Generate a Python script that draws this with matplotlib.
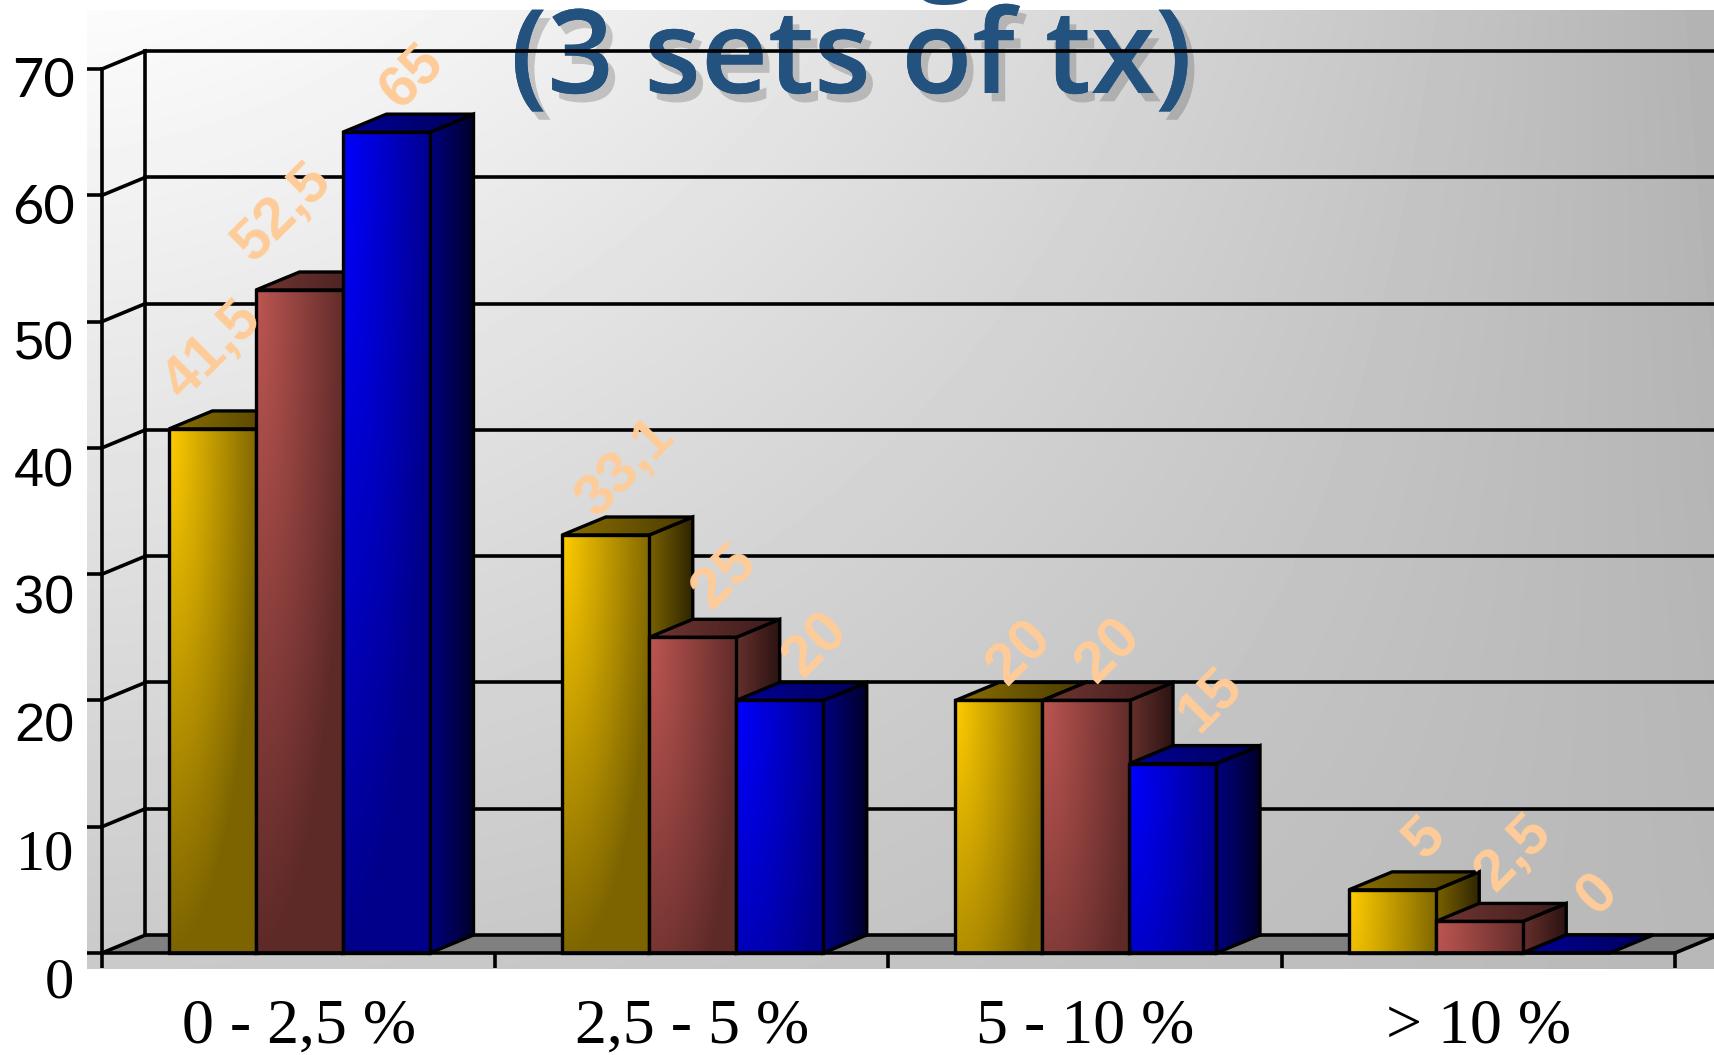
import numpy as np
import matplotlib
matplotlib.use("Agg")
import matplotlib.pyplot as plt
import matplotlib.patheffects as pe
from matplotlib.patches import Polygon
from matplotlib.transforms import ScaledTranslation

# ---------- data ----------
categories = ["0 - 2,5 %", "2,5 - 5 %", "5 - 10 %", "> 10 %"]
yellow_values = [41.5, 33.1, 20, 5]
red_values = [52.5, 25, 20, 2.5]
blue_values = [65, 20, 15, 0]
yellow_labels = ["41,5", "33,1", "20", "5"]
red_labels = ["52,5", "25", "20", "2,5"]
blue_labels = ["65", "20", "15", "0"]
y_ticks = [0, 10, 20, 30, 40, 50, 60, 70]

# ---------- layout (pixels of the 1715x1055 canvas) ----------
W, H = 1715, 1055
X0, X1, Y0, Y70 = 102, 1675, 953, 69
PX_X = (X1 - X0) / 4
PX_Y = (Y0 - Y70) / 70
DX = 43.5 / PX_X
DY = 18 / PX_Y
BAR_W = 87 / PX_X
BAR_GAP = 67 / PX_X

# label offsets (px right, px up) from the bar's top centre
yellow_off = [(0, 78), (20, 67), (21, 47), (33, 51)]
red_off = [(-17, 77), (32, 60), (23, 49), (35, 68)]
blue_off = [(26, 55), (36, 55), (37, 63), (32, 58)]

series = [
    (yellow_values, yellow_labels, yellow_off, "#ffcc00", "#7d6400", "#8a6e00", "#4a3b00", "#7a6200", "#2e2500"),
    (red_values, red_labels, red_off, "#bd5652", "#5e2a28", "#713532", "#3d1c1b", "#66302c", "#2a1312"),
    (blue_values, blue_labels, blue_off, "#0000ff", "#00008a", "#000096", "#00005a", "#000080", "#00002a"),
]


def rgb(c):
    return np.array(matplotlib.colors.to_rgb(c))


def grad_h(c1, c2, n=48):
    t = np.linspace(0, 1, n)[None, :, None]
    return rgb(c1)[None, None, :] * (1 - t) + rgb(c2)[None, None, :] * t


def grad_front(light, dark, ratio, n=80):
    u, v = np.meshgrid(np.linspace(0, 1, n), np.linspace(0, 1, n))
    f = np.clip(1 - np.sqrt((u * 0.95) ** 2 + (v * ratio) ** 2), 0, 1)[..., None]
    return rgb(dark) * (1 - f) + rgb(light) * f


plt.rcParams["font.family"] = ["Liberation Sans", "DejaVu Sans"]
fig = plt.figure(figsize=(W / 100, H / 100), dpi=100, facecolor="white")

# ---------- gradient backdrop ----------
bg = fig.add_axes([87 / W, 1 - 969 / H, (W - 87) / W, (969 - 10) / H], zorder=0)
uu, vv = np.meshgrid(np.linspace(0, 1, 300), np.linspace(0, 1, 200))
uu = uu ** 1.5
TL, TR, BL, BR = 0.985, 0.70, 0.79, 0.72
shade = (1 - uu) * (1 - vv) * TL + uu * (1 - vv) * TR + (1 - uu) * vv * BL + uu * vv * BR
bg.imshow(shade, cmap="gray", vmin=0, vmax=1, aspect="auto", interpolation="bilinear")
bg.set_axis_off()

# ---------- main axes ----------
ax = fig.add_axes([X0 / W, 1 - Y0 / H, (X1 - X0) / W, (Y0 - Y70) / H], zorder=1)
ax.patch.set_visible(False)
LW = 2.6

# title sits behind the grid
shadow = [pe.withSimplePatchShadow(offset=(5, -6), shadow_rgbFace="#404040", alpha=0.25), pe.Normal()]
ax.text(851 / W, 1 - 93 / H, "(3 sets of tx)", transform=fig.transFigure, ha="center", va="baseline",
        fontsize=84, fontfamily="Open Sans", fontweight="semibold", color="#24527f",
        path_effects=shadow, zorder=1, clip_on=False)
ax.text(948 / W, 1 + 23 / H, "g", transform=fig.transFigure, ha="center", va="baseline",
        fontsize=84, fontfamily="Open Sans", fontweight="semibold", color="#24527f",
        zorder=1, clip_on=False)

# floor, walls, grid
ax.add_patch(Polygon([(0, 0), (4, 0), (4 + DX, DY), (DX, DY)], closed=True, fc="#808080", ec="none",
                     zorder=1.5, clip_on=False))
for v in y_ticks:
    ax.plot([DX, 4 + DX], [v + DY, v + DY], color="black", lw=LW, zorder=2, clip_on=False)
    ax.plot([0, DX], [v, v + DY], color="black", lw=LW, zorder=2, clip_on=False)
ax.plot([DX, DX], [DY, 70 + DY], color="black", lw=LW, zorder=2, clip_on=False)
ax.plot([4, 4 + DX], [0, DY], color="black", lw=LW, zorder=2, clip_on=False)

# bars
z = 3.0


def face(img, pts, zo):
    pts = np.array(pts, dtype=float)
    x_min, x_max, y_min, y_max = pts[:, 0].min(), pts[:, 0].max(), pts[:, 1].min(), pts[:, 1].max()
    im = ax.imshow(img, extent=(x_min, x_max, y_min, y_max), origin="upper", aspect="auto",
                   interpolation="bilinear", zorder=zo)
    poly = Polygon(pts, closed=True, fc="none", ec="black", lw=2.4, joinstyle="miter", zorder=zo + 0.01,
                   clip_on=False)
    ax.add_patch(poly)
    im.set_clip_path(poly)


for g in range(len(categories)):
    for s, (vals, _, _, light, dark, top1, top2, side1, side2) in enumerate(series):
        v = vals[g]
        x = g + BAR_GAP + s * BAR_W
        xr = x + BAR_W
        if v > 0:
            ratio = min(1.0, (v * PX_Y) / 430)
            face(grad_front(light, dark, ratio), [(x, 0), (xr, 0), (xr, v), (x, v)], z + 0.2)
            face(grad_h(side1, side2), [(xr, 0), (xr + DX, DY), (xr + DX, v + DY), (xr, v)], z)
        face(grad_h(top1, top2), [(x, v), (xr, v), (xr + DX, v + DY), (x + DX, v + DY)], z + 0.1)
        z += 0.5

# data labels
for s, (vals, labs, offs, *_) in enumerate(series):
    for g, (v, lab, off) in enumerate(zip(vals, labs, offs)):
        xc = g + BAR_GAP + (s + 0.5) * BAR_W
        ax.annotate(lab, (xc, v), xytext=off, textcoords="offset pixels", rotation=45,
                    ha="center", va="center", fontsize=42, fontweight="bold", color="#ffcc99",
                    fontfamily="Liberation Sans", zorder=50, annotation_clip=False)

# axes, ticks, tick labels
ax.set_xlim(0, 4)
ax.set_ylim(0, 70)
for side in ("top", "right"):
    ax.spines[side].set_visible(False)
for side in ("left", "bottom"):
    ax.spines[side].set_linewidth(LW)
    ax.spines[side].set_zorder(40)
ax.set_xticks(range(5))
ax.set_xticklabels([])
ax.tick_params(axis="x", which="major", length=10.8, width=LW)
ax.set_xticks([i + 0.5 for i in range(4)], minor=True)
ax.set_xticklabels(categories, minor=True, fontfamily="Liberation Serif", fontsize=46)
ax.tick_params(axis="x", which="minor", length=0, pad=33)
ax.set_yticks(y_ticks)
ax.tick_params(axis="y", length=10.8, width=LW, pad=9)
# the reference mixes three faces on this axis
y_styles = {
    0: ("Liberation Serif", 42, "normal", 25),
    10: ("Liberation Serif", 42, "normal", 23),
    20: ("Liberation Sans", 39, "normal", 22),
    30: ("Liberation Sans", 39, "normal", 20),
    40: ("Liberation Sans", 39, "normal", 19),
    50: ("Liberation Sans", 39, "normal", 18),
    60: ("Lato", 39, "normal", 9),
    70: ("Lato", 39, "normal", 8),
}
for tick_val, lbl in zip(y_ticks, ax.get_yticklabels()):
    fam, size, weight, shift = y_styles[tick_val]
    lbl.set_fontfamily(fam)
    lbl.set_fontsize(size)
    lbl.set_fontweight(weight)
    lbl.set_transform(lbl.get_transform() + ScaledTranslation(0, -shift / 100, fig.dpi_scale_trans))

fig.savefig("out.png", dpi=100)
